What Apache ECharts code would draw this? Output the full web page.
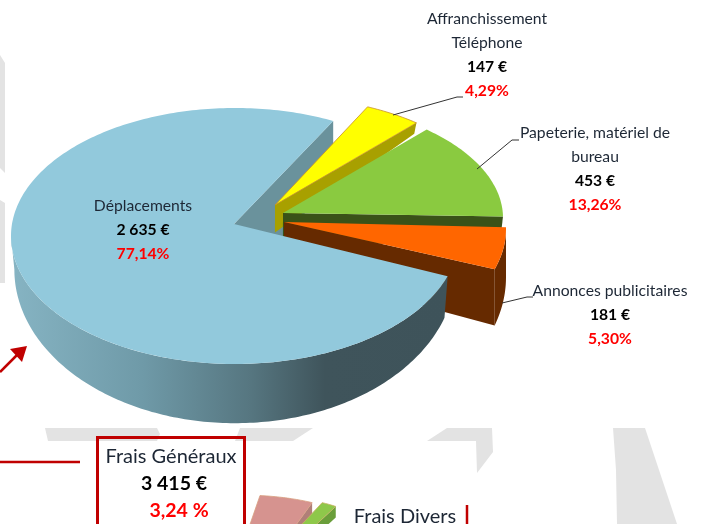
<!DOCTYPE html>
<html><head><meta charset="utf-8">
<style>html,body{margin:0;padding:0;background:#fff}#c{width:709px;height:524px}</style>
<script src="https://cdn.jsdelivr.net/npm/echarts@6/dist/echarts.min.js"></script>
</head><body><div id="c"></div>
<script>
// ---- data
var categories = [['Affranchissement','Téléphone'],['Papeterie, matériel de','bureau'],['Annonces publicitaires'],['Déplacements']];
var values = [147, 453, 181, 2635];
var valueLabels = ['147 €','453 €','181 €','2 635 €'];
var percentLabels = ['4,29%','13,26%','5,30%','77,14%'];
var totalName = 'Frais Généraux', totalValue = '3 415 €', totalPercent = '3,24 %';
var secondName = 'Frais Divers';
var smallValues = [7.6, 2.4];

// ---- layout & style
var FONT = 'Lato';
var startAngle = 64;
var slices = [
 {cx:272,cy:203,rx:218,ry:107,ax:275,ay:205,k:1.2,b:-13.6,xk:0.985,top:'#ffff00',wall:'#a8a000',line:'#c8902a',z:2},
 {cx:277,cy:218,rx:226,ry:118,ax:283,ay:213,k:1.2,b:-13.6,xk:0.985,top:'#8aca40',wall:'#3a5218',z:4},
 {cx:282,cy:229,rx:224,ry:128,ax:284,ay:222,k:1.2,b:2.4,xk:1,top:'#ff6600',wall:'#662a00',z:6},
 {cx:235,cy:236,rx:224,ry:128,ax:234,ay:224,k:1.2,b:-13.6,xk:0.985,top:'#92c9dc',wall:'#6a929c',wallDrop:60,z:8,innerZ:1}
];
var labelPos = [[487,19],[595,133],[610,291],[143,206]];
var smallSlices = [
 {cx:240,cy:533,rx:120,ry:38,ax:207,ay:648,k:1,b:11,xk:1,top:'#d6938f',wall:'#b07f78',line:'#d8a080',z:2},
 {cx:250,cy:533,rx:120,ry:38,ax:207,ay:626,k:1,b:11,xk:1,top:'#8ec84a',wall:'#6a9e3a',line:'#c8b060',z:2}
];
var blueWall = new echarts.graphic.LinearGradient(11,0,447,0,[
 {offset:0,color:'#86b4c3'},{offset:0.3,color:'#6f9aa8'},{offset:0.55,color:'#567680'},{offset:0.72,color:'#3f545b'},{offset:1,color:'#3e535a'}],true);

function ell(s,d){var r=d*Math.PI/180;return [s.cx+s.rx*Math.cos(r),s.cy-s.ry*Math.sin(r)];}
function low(s,p){return [s.cx+(p[0]-s.cx)*s.xk,s.k*p[1]+s.b];}
function arc(s,a,b){var pts=[],i,n=Math.max(2,Math.ceil(Math.abs(a-b)));for(i=0;i<=n;i++)pts.push(ell(s,a+(b-a)*i/n));return pts;}
function poly(pts,style,z){return {type:'polygon',shape:{points:pts},style:style,z2:z,silent:true};}

function sliceEls(s,a0,a1,wallFill){
  var els=[],apex=[s.ax,s.ay],top=[apex].concat(arc(s,a0,a1));
  var st=s.line?{stroke:s.line,lineWidth:0.8}:{};
  // radial wall at the closing edge
  var e=ell(s,a1),eb=s.wallDrop?[e[0],e[1]+s.wallDrop]:low(s,e),ab=s.wallDrop?[apex[0],apex[1]+s.wallDrop+10]:low(s,apex);
  els.push(poly([apex,e,eb,ab],{fill:s.wall},s.innerZ||s.z));
  // rim
  var hi=Math.min(a0,0),lo=Math.max(a1,-180);
  if(hi>lo){var t=arc(s,hi,lo);els.push(poly(t.concat(t.slice().reverse().map(function(p){return low(s,p);})),{fill:wallFill||s.wall},s.z));}
  els.push(poly(top,Object.assign({fill:s.top},st),s.z+1));
  return els;
}

function textEl(x,y,t,o){return {type:'text',x:x,y:y,z2:20,silent:true,style:{text:t,x:0,y:0,align:'center',verticalAlign:'middle',fontFamily:FONT,fontSize:o.size||15.7,fontWeight:o.bold?'bold':'normal',fill:o.color||'#1d2735'}};}

var sum=values.reduce(function(a,b){return a+b;},0);
function mainItem(params,api){
  var i=params.dataIndex,acc=0,j;
  for(j=0;j<i;j++)acc+=values[j];
  var v=api.value(1),a0=startAngle-acc/sum*360,a1=a0-v/sum*360;
  var els=sliceEls(slices[i],a0,a1,i===3?blueWall:null);
  var p=labelPos[i],y=p[1],lines=categories[i];
  lines.forEach(function(l){els.push(textEl(p[0],y,l,{}));y+=24;});
  els.push(textEl(p[0],y,valueLabels[i],{bold:true,color:'#000'}));y+=24;
  els.push(textEl(p[0],y,percentLabels[i],{bold:true,color:'#ff0000'}));
  return {type:'group',children:els};
}
var smallSum=100;
function smallItem(params,api){
  var i=params.dataIndex,acc=0,j;
  for(j=0;j<i;j++)acc+=smallValues[j];
  var a0=80.4-acc/smallSum*360,a1=a0-api.value(1)/smallSum*360;
  return {type:'group',children:sliceEls(smallSlices[i],a0,a1)};
}

var G='#e3e3e3',R='#c00000';
function wm(pts){return {type:'polygon',shape:{points:pts},style:{fill:G},silent:true,z:0};}
function ln(pts,w,c){return {type:'polyline',shape:{points:pts},style:{stroke:c,lineWidth:w,fill:null},silent:true,z:3};}
function txt(x,y,t,size,bold,color,align){return {type:'text',x:x,y:y,z:3,silent:true,style:{text:t,align:align||'center',verticalAlign:'middle',fontFamily:FONT,fontSize:size,fontWeight:bold?'bold':'normal',fill:color}};}

var chart=echarts.init(document.getElementById('c'),null,{renderer:'canvas'});
chart.setOption({
  animation:false,
  backgroundColor:'#fff',
  series:[
   {type:'custom',coordinateSystem:'none',z:2,silent:true,renderItem:mainItem,data:values.map(function(v,i){return [i,v];}),clip:false},
   {type:'custom',coordinateSystem:'none',z:2,silent:true,renderItem:smallItem,data:smallValues.map(function(v,i){return [i,v];}),clip:false}
  ],
  graphic:[
   wm([[0,55],[5,63],[5,173],[0,168]]),
   wm([[0,200],[5,203],[5,283],[0,283]]),
   wm([[45,428],[157,428],[160,434],[157,441],[48,441]]),
   wm([[240,428],[313,428],[293,441],[235,441]]),
   wm([[427,441],[447,428],[492,428],[493,452],[477,473],[476,441]]),
   wm([[613,428],[645,428],[677,524],[617,524],[616,470]]),
   ln([[393,115],[457,97],[463,97]],1,'#333'),
   ln([[477,169],[512,140],[519,140]],1,'#333'),
   ln([[502,303],[527,297],[533,297]],1,'#333'),
   ln([[0,462],[80,462]],2.5,R),
   ln([[0,372],[20,352]],2.5,R),
   {type:'polygon',shape:{points:[[27,346],[10,349],[22,362]]},style:{fill:R},silent:true,z:3},
   {type:'rect',shape:{x:97.5,y:437.5,width:147,height:100},style:{fill:null,stroke:R,lineWidth:3},silent:true,z:3},
   ln([[467,505],[467,524]],2.5,R),
   txt(171,457,totalName,20,false,'#1d2735'),
   txt(174,484,totalValue,19.5,true,'#000'),
   txt(179,511,totalPercent,19.5,true,'#ff0000'),
   txt(405,517,secondName,20,false,'#1d2735')
  ]
});
</script></body></html>
